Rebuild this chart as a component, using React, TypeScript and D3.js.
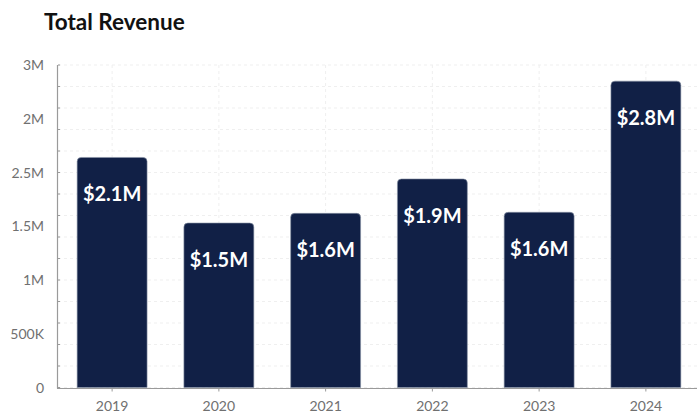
import React from "react";
import * as d3 from "d3";

const categories = ["2019", "2020", "2021", "2022", "2023", "2024"];
const revenue = [2140000, 1530000, 1620000, 1940000, 1630000, 2850000];
const barLabels = ["$2.1M", "$1.5M", "$1.6M", "$1.9M", "$1.6M", "$2.8M"];
const yTickValues = [0, 500000, 1000000, 1500000, 2000000, 2500000, 3000000];
const yTickLabels = ["0", "500K", "1M", "1.5M", "2.5M", "2M", "3M"];
const gridValues = d3.range(0, 3000001, 200000);

const W = 700;
const H = 414;
const left = 58;
const right = 698;
const top = 65;
const bottom = 387.5;
const font = "Lato, 'Open Sans', sans-serif";

export default function App() {
  const x = d3.scaleBand<string>().domain(categories).range([left + 1, right + 1]).paddingInner(0.345).paddingOuter(0.17);
  const y = d3.scaleLinear().domain([0, 3000000]).range([bottom, top]);
  const r = 4;
  const barPath = (x0: number, y0: number, w: number, y1: number) =>
    `M${x0},${y1}V${y0 + r}Q${x0},${y0} ${x0 + r},${y0}H${x0 + w - r}Q${x0 + w},${y0} ${x0 + w},${y0 + r}V${y1}Z`;

  return (
    <svg width={W} height={H} style={{ position: "absolute", left: 0, top: 0, background: "#fff" }}>
      <text x={44} y={30} fontFamily={font} fontWeight={700} fontSize={22.5} fill="#111">Total Revenue</text>
      {gridValues.map((v) => (
        <line key={"g" + v} x1={left} x2={right} y1={y(v)} y2={y(v)} stroke="#efefef" strokeDasharray="3,3" strokeWidth={1} />
      ))}
      {categories.map((c) => (
        <line key={"vg" + c} x1={x(c)! + x.bandwidth() / 2} x2={x(c)! + x.bandwidth() / 2} y1={top} y2={bottom} stroke="#efefef" strokeDasharray="3,3" />
      ))}
      {categories.map((c, i) => {
        const x0 = x(c)!;
        const w = x.bandwidth();
        const y0 = y(revenue[i]);
        return (
          <g key={"b" + c}>
            <path d={barPath(x0, y0, w, bottom)} fill="#112046" stroke="#8a93a6" strokeWidth={0.6} />
            <text x={x0 + w / 2} y={y0 + 44} textAnchor="middle" fontFamily={font} fontWeight={700} fontSize={20} fill="#fff">{barLabels[i]}</text>
          </g>
        );
      })}
      <line x1={left - 0.5} x2={left - 0.5} y1={top} y2={bottom + 1} stroke="#9a9a9a" strokeWidth={1.2} />
      {gridValues.map((v) => (
        <line key={"t" + v} x1={left} x2={left + 2} y1={y(v)} y2={y(v)} stroke="#9a9a9a" />
      ))}
      <line x1={left - 1} x2={right - 1} y1={bottom + 1} y2={bottom + 1} stroke="#9a9a9a" strokeWidth={1.2} />
      {yTickValues.map((v, i) => (
        <text key={"yl" + v} x={44} y={y(v) + 5} textAnchor="end" fontFamily={font} fontSize={14} fill="#707070">{yTickLabels[i]}</text>
      ))}
      {categories.map((c) => (
        <g key={"xl" + c}>
          <line x1={x(c)! + x.bandwidth() / 2} x2={x(c)! + x.bandwidth() / 2} y1={bottom + 1} y2={bottom + 4} stroke="#9a9a9a" />
          <text x={x(c)! + x.bandwidth() / 2} y={411} textAnchor="middle" fontFamily={font} fontSize={14} fill="#707070">{c}</text>
        </g>
      ))}
    </svg>
  );
}
